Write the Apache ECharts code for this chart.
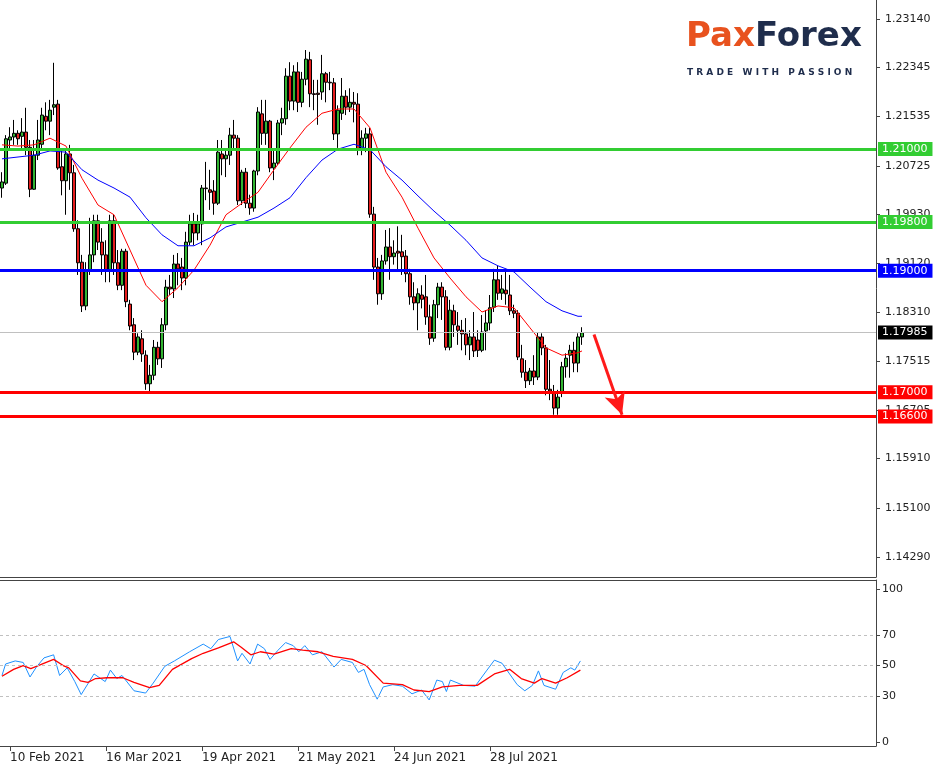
<!DOCTYPE html>
<html><head><meta charset="utf-8">
<script src="https://cdn.jsdelivr.net/npm/echarts@6/dist/echarts.min.js"></script>
<style>html,body{margin:0;padding:0;background:#fff}#c{width:944px;height:768px}</style>
</head><body><div id="c"></div>
<script>
const opens=[1.2036,1.2044,1.2115,1.2120,1.2126,1.2121,1.2128,1.2103,1.2034,1.2090,1.2108,1.2154,1.2146,1.2169,1.2174,1.2071,1.2048,1.2092,1.2061,1.1969,1.1914,1.1842,1.1901,1.1926,1.1982,1.1947,1.1926,1.1901,1.1982,1.1913,1.1876,1.1932,1.1845,1.1811,1.1766,1.1788,1.1761,1.1714,1.1728,1.1774,1.1755,1.1811,1.1873,1.1870,1.1911,1.1906,1.1888,1.1947,1.1977,1.1962,1.1977,1.2036,1.2033,1.2031,1.2011,1.2092,1.2084,1.2090,1.2123,1.2118,1.2015,1.2062,1.2011,1.2003,1.2064,1.2158,1.2126,1.2146,1.2069,1.2077,1.2143,1.2150,1.2220,1.2179,1.2227,1.2177,1.2215,1.2247,1.2191,1.2192,1.2194,1.2224,1.2210,1.2209,1.2125,1.2159,1.2187,1.2169,1.2177,1.2174,1.2100,1.2118,1.2125,1.1993,1.1906,1.1862,1.1916,1.1939,1.1923,1.1932,1.1931,1.1924,1.1895,1.1857,1.1847,1.1860,1.1857,1.1824,1.1789,1.1844,1.1873,1.1857,1.1774,1.1834,1.1809,1.1802,1.1796,1.1778,1.1791,1.1786,1.1769,1.1801,1.1814,1.1840,1.1885,1.1863,1.1868,1.1860,1.1834,1.1830,1.1755,1.1733,1.1719,1.1735,1.1725,1.1791,1.1773,1.1705,1.1700,1.1674,1.1699,1.1742,1.1761,1.1769,1.1748,1.1791];
const closes=[1.2046,1.2117,1.2120,1.2126,1.2117,1.2128,1.2103,1.2034,1.2090,1.2115,1.2156,1.2146,1.2164,1.2173,1.2069,1.2048,1.2092,1.2061,1.1969,1.1913,1.1842,1.1901,1.1926,1.1982,1.1947,1.1926,1.1901,1.1982,1.1913,1.1876,1.1932,1.1849,1.1809,1.1766,1.1791,1.1763,1.1714,1.1728,1.1774,1.1755,1.1811,1.1873,1.1870,1.1911,1.1903,1.1888,1.1947,1.1977,1.1962,1.1977,1.2036,1.2035,1.2029,1.2011,1.2095,1.2084,1.2090,1.2123,1.2118,1.2015,1.2062,1.2011,1.2003,1.2064,1.2161,1.2126,1.2146,1.2069,1.2077,1.2143,1.2150,1.2220,1.2179,1.2227,1.2177,1.2215,1.2248,1.2191,1.2190,1.2190,1.2224,1.2210,1.2209,1.2125,1.2164,1.2187,1.2169,1.2177,1.2174,1.2100,1.2118,1.2125,1.1993,1.1906,1.1862,1.1916,1.1939,1.1923,1.1929,1.1929,1.1923,1.1895,1.1857,1.1847,1.1862,1.1853,1.1824,1.1789,1.1844,1.1873,1.1857,1.1774,1.1835,1.1811,1.1802,1.1796,1.1778,1.1791,1.1768,1.1769,1.1799,1.1814,1.1839,1.1885,1.1863,1.1870,1.1862,1.1834,1.1830,1.1758,1.1733,1.1719,1.1735,1.1725,1.1791,1.1773,1.1705,1.1702,1.1674,1.1692,1.1742,1.1756,1.1769,1.1748,1.1791,1.1798];
const lows=[1.2020,1.2041,1.2099,1.2107,1.2107,1.2099,1.2090,1.2021,1.2033,1.2082,1.2099,1.2131,1.2123,1.2156,1.2066,1.2024,1.1992,1.2033,1.1964,1.1893,1.1832,1.1835,1.1893,1.1914,1.1934,1.1893,1.1881,1.1881,1.1893,1.1868,1.1868,1.1840,1.1802,1.1753,1.1761,1.1750,1.1704,1.1700,1.1720,1.1745,1.1740,1.1802,1.1860,1.1855,1.1876,1.1868,1.1876,1.1942,1.1942,1.1950,1.1942,1.2016,1.2000,1.1992,1.2008,1.2057,1.2054,1.2074,1.2099,1.2008,1.2008,1.2003,1.1992,1.1997,1.2057,1.2107,1.2107,1.2062,1.2049,1.2074,1.2123,1.2140,1.2164,1.2164,1.2161,1.2169,1.2205,1.2169,1.2164,1.2140,1.2181,1.2177,1.2197,1.2115,1.2102,1.2148,1.2156,1.2161,1.2144,1.2090,1.2090,1.2095,1.1987,1.1885,1.1844,1.1852,1.1910,1.1885,1.1910,1.1901,1.1893,1.1881,1.1844,1.1835,1.1802,1.1838,1.1811,1.1778,1.1783,1.1822,1.1819,1.1769,1.1769,1.1791,1.1778,1.1769,1.1761,1.1753,1.1758,1.1758,1.1766,1.1769,1.1802,1.1832,1.1852,1.1852,1.1844,1.1827,1.1822,1.1753,1.1724,1.1707,1.1712,1.1712,1.1720,1.1761,1.1695,1.1687,1.1663,1.1663,1.1692,1.1724,1.1724,1.1733,1.1733,1.1778];
const highs=[1.2062,1.2123,1.2136,1.2148,1.2131,1.2151,1.2168,1.2115,1.2115,1.2148,1.2168,1.2177,1.2181,1.2242,1.2181,1.2099,1.2099,1.2107,1.2074,1.1983,1.1926,1.1914,1.1987,1.1992,1.1992,1.1970,1.1950,1.1992,1.1992,1.1934,1.1936,1.1936,1.1852,1.1822,1.1797,1.1802,1.1769,1.1745,1.1786,1.1783,1.1822,1.1885,1.1893,1.1926,1.1929,1.1921,1.1964,1.1992,1.1995,1.1992,1.2041,1.2079,1.2066,1.2049,1.2115,1.2115,1.2099,1.2135,1.2148,1.2123,1.2066,1.2069,1.2025,1.2066,1.2169,1.2181,1.2181,1.2148,1.2099,1.2148,1.2168,1.2233,1.2243,1.2238,1.2243,1.2227,1.2263,1.2260,1.2214,1.2214,1.2255,1.2227,1.2227,1.2217,1.2172,1.2217,1.2197,1.2200,1.2194,1.2192,1.2131,1.2135,1.2135,1.2005,1.1921,1.1926,1.1967,1.1970,1.1950,1.1973,1.1959,1.1934,1.1903,1.1881,1.1871,1.1876,1.1893,1.1844,1.1852,1.1880,1.1881,1.1868,1.1852,1.1844,1.1832,1.1819,1.1822,1.1802,1.1832,1.1802,1.1827,1.1835,1.1860,1.1903,1.1908,1.1893,1.1903,1.1893,1.1844,1.1835,1.1778,1.1753,1.1740,1.1761,1.1799,1.1797,1.1778,1.1753,1.1712,1.1704,1.1750,1.1764,1.1778,1.1783,1.1797,1.1807];
const maFast=[[0,1.2107],[4,1.2105],[8,1.2107],[12,1.2118],[16,1.2105],[20,1.2052],[24,1.2008],[28,1.1992],[32,1.1934],[36,1.1876],[40,1.1849],[44,1.1872],[48,1.1901],[52,1.1942],[56,1.1992],[60,1.2011],[64,1.2029],[68,1.2066],[72,1.2102],[76,1.2136],[80,1.2159],[84,1.2166],[88,1.2166],[92,1.2135],[96,1.2062],[100,1.2021],[104,1.1970],[108,1.1921],[112,1.1888],[116,1.1857],[120,1.1832],[124,1.1842],[128,1.1839],[132,1.1806],[136,1.1773],[140,1.1761],[144,1.1765],[145,1.1768]];
const maSlow=[[0,1.2084],[4,1.2087],[8,1.2090],[12,1.2097],[16,1.2095],[20,1.2066],[24,1.2049],[28,1.2036],[32,1.2021],[36,1.1987],[40,1.1959],[44,1.1941],[48,1.1941],[52,1.1954],[56,1.1972],[60,1.1980],[64,1.1988],[68,1.2003],[72,1.2020],[76,1.2053],[80,1.2082],[84,1.2100],[88,1.2108],[92,1.2099],[96,1.2071],[100,1.2049],[104,1.2023],[108,1.1998],[112,1.1975],[116,1.1950],[120,1.1921],[124,1.1908],[128,1.1898],[132,1.1873],[136,1.1849],[140,1.1834],[144,1.1825],[145,1.1825]];
const rsi=[[0,43.5],[0.9,51],[3.3,53],[5.3,52],[7,42.5],[8.6,49],[10.5,55],[12.9,57],[14.4,43.5],[16.3,48.5],[18.2,39.5],[19.8,31],[23,44.5],[25.8,39.5],[27.1,47],[28.7,41.5],[30,43.5],[33,33.5],[35.9,32],[37.8,38.5],[40.7,49.5],[43.1,53],[46.9,59],[50.3,64],[52.2,61],[54.1,67],[57,69],[58.9,53],[60,58],[62,51],[63.9,64],[65.6,61],[67,54],[69,60],[70.9,65],[72.8,63],[74.2,59],[75.7,63],[77.6,57],[80,59],[83,49],[84.8,54],[87.6,52],[89.1,45.5],[90.5,47.5],[91.9,37.5],[93.8,28],[95.3,36],[97.7,37.5],[100.1,36.5],[102.5,31.5],[104.9,34],[106.8,27.5],[108.7,40.5],[110.1,39.5],[111.1,33],[112.1,40.5],[115.4,37],[118.3,36.5],[121.1,46.5],[123.1,53.5],[125,51.5],[126.9,44.5],[128.8,37.5],[130.7,33.5],[132.6,37],[134.1,46.5],[135.5,37],[138.4,34.5],[140.3,45.5],[142.2,48.5],[143.2,47],[144.6,53]];
const rsiSignal=[[0,43],[2.9,47.5],[5.3,50],[7.2,48],[12.9,54],[15.3,50],[16.7,48.5],[19.6,40],[21.5,39],[23.4,41.5],[26.3,42],[30.2,42],[33,39],[36.9,35.5],[39.3,37],[42.6,47.5],[47.4,54.5],[50.3,58],[54.1,61.5],[57.9,65.5],[59.8,62],[62.2,57],[64.6,59],[68,57.5],[72.3,61],[75.2,60],[79,59],[82.8,56],[87.6,54],[91,50],[95.3,38.5],[100.1,37.5],[103,34],[106.8,33],[110.1,36],[114.4,37],[118.8,37],[123.1,44.5],[126.9,47.5],[129.8,41.5],[133.1,38.5],[135,41.5],[138.4,38.5],[141.3,42],[144.6,47]];
const priceTicks=[1.23140,1.22345,1.21535,1.20725,1.19930,1.19120,1.18310,1.17515,1.16705,1.15910,1.15100,1.14290];
const rsiTicks=[0,30,50,70,100];
const dateTickIdx=[2,26,50,74,98,122];
const dateTickLabels=['10 Feb 2021','16 Mar 2021','19 Apr 2021','21 May 2021','24 Jun 2021','28 Jul 2021'];
const levelValues=[1.2100,1.1980,1.1900,1.1700,1.1660];
const levelColors=['#32cd32','#32cd32','#0000ff','#ff0000','#ff0000'];
const lastPrice=1.17985;
const arrow=[[148,1.1795],[155,1.1663]];
const SLOTS=219;

const cats=Array.from({length:SLOTS},(_,i)=>String(i));
const candles=opens.map((o,i)=>[o,closes[i],lows[i],highs[i]]);
const chart=echarts.init(document.getElementById('c'),null,{renderer:'canvas'});
const lblBase={show:true,position:'end',distance:2,color:'#fff',padding:[2,5,1,4],fontSize:11,fontFamily:'DejaVu Sans'};
const levelSeries=levelValues.map((v,k)=>({type:'line',xAxisIndex:0,yAxisIndex:0,data:[],z:2,
  markLine:{silent:true,symbol:'none',precision:5,
    data:[{yAxis:v,lineStyle:{color:levelColors[k],width:3,type:'solid'},label:Object.assign({},lblBase,{formatter:v.toFixed(5),backgroundColor:levelColors[k]})}]}}));
levelSeries.push({type:'line',xAxisIndex:0,yAxisIndex:0,data:[],z:1,
  markLine:{silent:true,symbol:'none',precision:5,data:[{yAxis:lastPrice,lineStyle:{color:'#c0c0c0',width:1,type:'solid'},label:Object.assign({},lblBase,{formatter:lastPrice.toFixed(5),backgroundColor:'#000'})}]}});
chart.setOption({
  animation:false,
  textStyle:{fontFamily:'DejaVu Sans'},
  grid:[{left:0,right:68,top:0,height:577},{left:0,right:68,top:580,height:166}],
  xAxis:[
    {type:'category',data:cats,gridIndex:0,boundaryGap:true,axisLabel:{show:false},axisTick:{show:false},axisLine:{show:true,lineStyle:{color:'#444',width:1}}},
    {type:'value',gridIndex:1,min:-0.5,max:SLOTS-0.5,splitLine:{show:false},
      axisLine:{show:true,onZero:false,lineStyle:{color:'#444'}},
      axisTick:{show:true,customValues:dateTickIdx,length:5,lineStyle:{color:'#444'}},
      axisLabel:{customValues:dateTickIdx,formatter:v=>dateTickLabels[dateTickIdx.indexOf(Math.round(v))]||'',align:'left',color:'#222',fontSize:12,margin:6}},
    {type:'value',gridIndex:1,position:'top',min:-0.5,max:SLOTS-0.5,axisLabel:{show:false},axisTick:{show:false},splitLine:{show:false},axisLine:{show:true,onZero:false,lineStyle:{color:'#444'}}}
  ],
  yAxis:[
    {type:'value',gridIndex:0,position:'right',min:1.13961,max:1.23453,splitLine:{show:false},
      axisLine:{show:true,onZero:false,lineStyle:{color:'#444'}},
      axisTick:{show:true,customValues:priceTicks,length:4,lineStyle:{color:'#444'}},
      axisLabel:{customValues:priceTicks,formatter:v=>v.toFixed(5),color:'#222',fontSize:11,margin:9}},
    {type:'value',gridIndex:1,position:'right',min:-2.6,max:105.9,splitLine:{show:false},
      axisLine:{show:true,onZero:false,lineStyle:{color:'#444'}},
      axisTick:{show:true,customValues:rsiTicks,length:4,lineStyle:{color:'#444'}},
      axisLabel:{customValues:rsiTicks,color:'#222',fontSize:11,margin:6}}
  ],
  series:levelSeries.concat([
    {type:'candlestick',xAxisIndex:0,yAxisIndex:0,data:candles,barWidth:3,z:3,
      itemStyle:{color:'#32b432',color0:'#e61e1e',borderColor:'#000',borderColor0:'#000',borderWidth:1}},
    {type:'line',xAxisIndex:0,yAxisIndex:0,data:maFast,showSymbol:false,lineStyle:{color:'#ff0000',width:1},z:4},
    {type:'line',xAxisIndex:0,yAxisIndex:0,data:maSlow,showSymbol:false,lineStyle:{color:'#0000ff',width:1},z:4,
      markLine:{silent:true,precision:5,symbol:['none','arrow'],symbolSize:[16,22],z:5,lineStyle:{color:'#ff1a1a',width:3,type:'solid'},label:{show:false},
        data:[[{coord:arrow[0]},{coord:arrow[1]}]]}},
    {type:'line',xAxisIndex:1,yAxisIndex:1,data:rsi,showSymbol:false,lineStyle:{color:'#1e90ff',width:1},
      markLine:{silent:true,symbol:'none',label:{show:false},lineStyle:{color:'#c0c0c0',type:[3,3],width:1},data:[{yAxis:30},{yAxis:50},{yAxis:70}]}},
    {type:'line',xAxisIndex:1,yAxisIndex:1,data:rsiSignal,showSymbol:false,lineStyle:{color:'#ff0000',width:1.3}}
  ]),
  graphic:[
    {type:'text',left:686,top:20,style:{text:'{a|Pax}{c|Forex}',rich:{a:{fill:'#e8521e',font:'bold 34px "DejaVu Sans"'},c:{fill:'#1f2d4c',font:'bold 34px "DejaVu Sans"'}}}},
    {type:'text',left:687,top:68,style:{text:'T R A D E   W I T H   P A S S I O N',fill:'#1f2d4c',font:'bold 9px "DejaVu Sans"'}}
  ]
});
</script></body></html>
